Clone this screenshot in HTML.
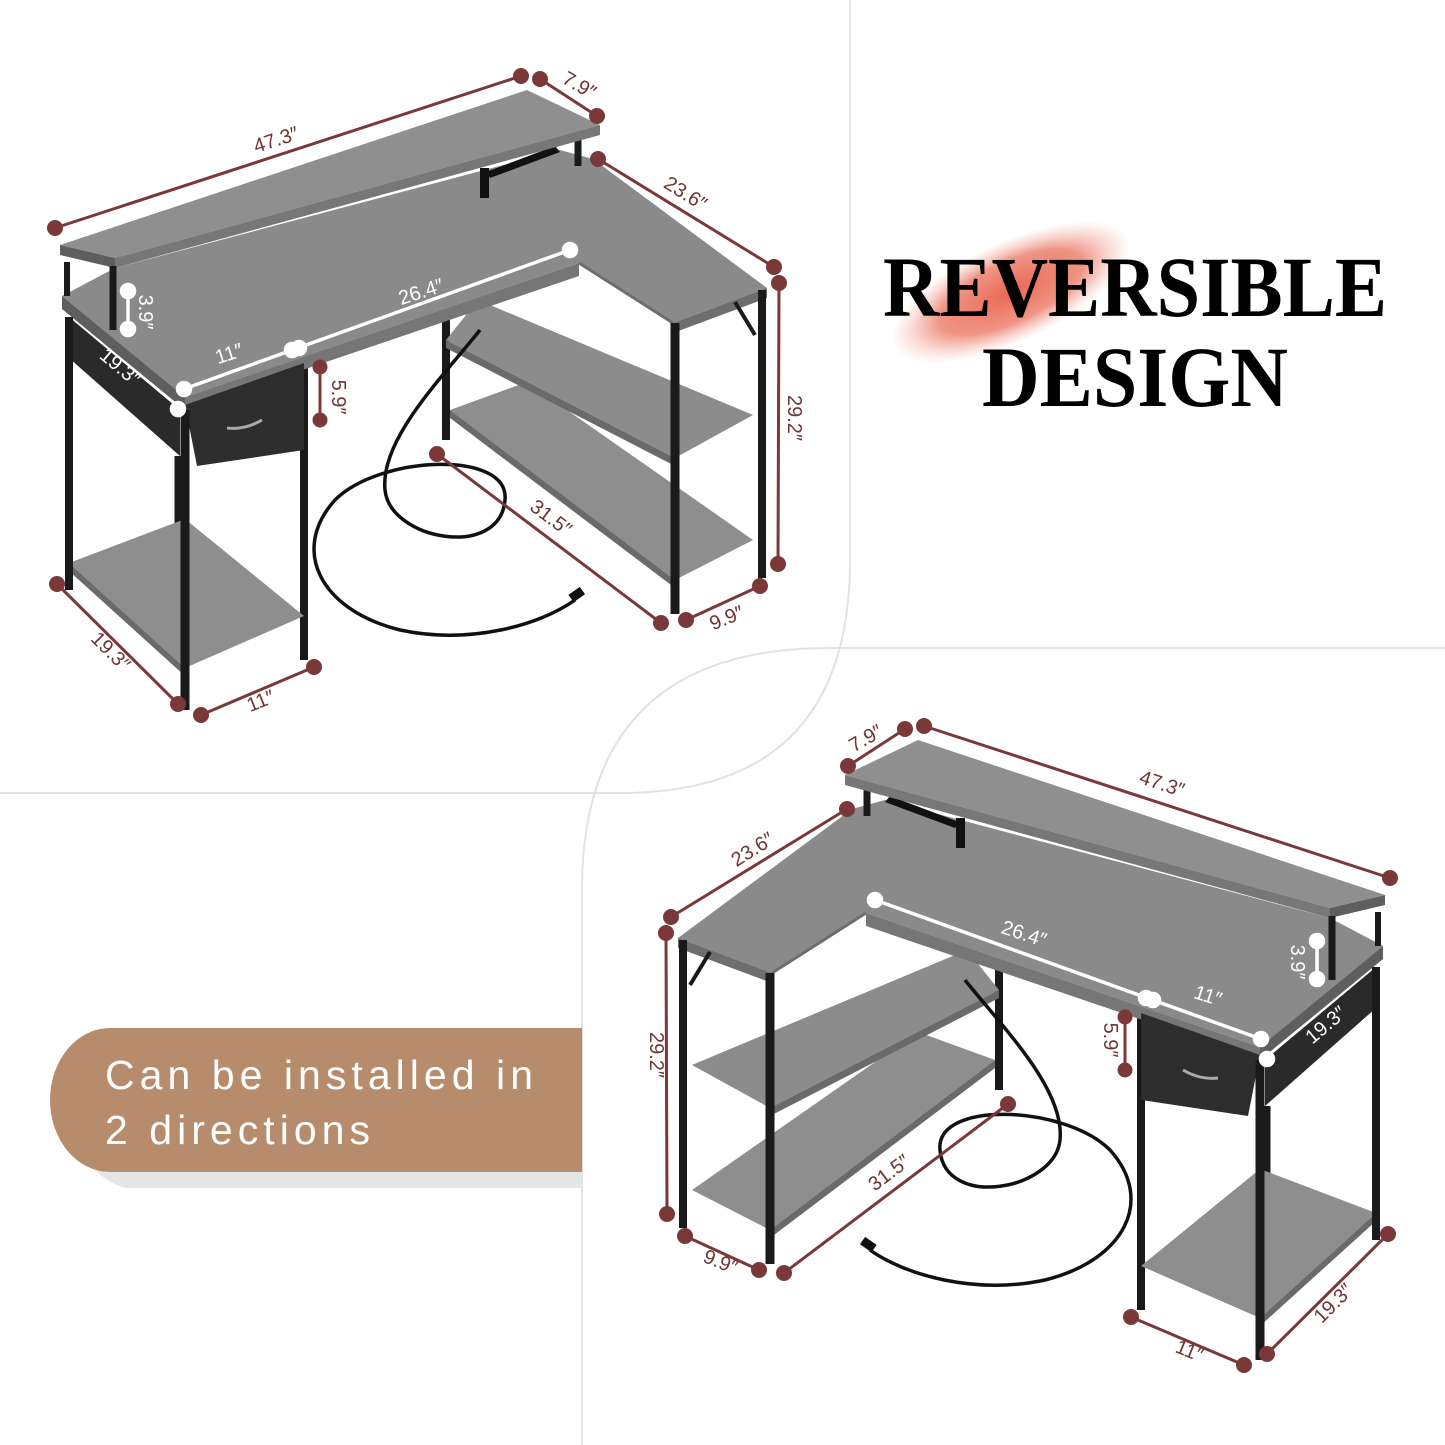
<!DOCTYPE html>
<html><head><meta charset="utf-8"><style>
html,body{margin:0;padding:0;background:#fff;}
svg{display:block;}
.d{font-family:"Liberation Sans",sans-serif;font-size:20px;fill:#6e3535;}
.w{font-family:"Liberation Sans",sans-serif;font-size:20px;fill:#fff;}
</style></head><body>
<svg width="1445" height="1445" viewBox="0 0 1445 1445" xmlns="http://www.w3.org/2000/svg">
<defs>
<radialGradient id="glow" cx="50%" cy="50%" r="50%">
<stop offset="0" stop-color="#e8604a" stop-opacity="0.95"/>
<stop offset="0.6" stop-color="#ec7a66" stop-opacity="0.8"/>
<stop offset="1" stop-color="#f4b0a4" stop-opacity="0"/>
</radialGradient>
<g id="desk">
  <line x1="178" y1="456" x2="178" y2="560" stroke="#1a1a1a" stroke-width="7"/>
  <line x1="304" y1="363" x2="304" y2="660" stroke="#1a1a1a" stroke-width="8"/>
  <line x1="446" y1="313" x2="446" y2="440" stroke="#1a1a1a" stroke-width="8"/>
  <polygon points="450,410 527,382 753,540 675,580" fill="#8e8e8e"/>
  <polygon points="450,410 675,580 675,588 450,418" fill="#6a6a6a"/>
  <polygon points="478,300 753,415 675,458 446,340" fill="#8c8c8c"/>
  <polygon points="446,340 675,458 675,466 446,348" fill="#6a6a6a"/>
  <polygon points="69,563 185,519 304,616 185,668" fill="#8e8e8e"/>
  <polygon points="69,563 185,668 185,676 69,571" fill="#6a6a6a"/>
  <path d="M480,330 C440,380 380,440 385,490 C390,540 500,560 505,500 C510,450 380,455 335,500 C290,550 320,610 400,630 C470,645 540,625 575,600" fill="none" stroke="#111" stroke-width="3.5"/>
  <rect x="570" y="590" width="14" height="9" fill="#111" transform="rotate(-35 577 595)"/>
  <polygon points="62,296 185,397 579,263 673,323 767,288 593,159 560,150 115,268" fill="#8a8a8a"/>
  <polygon points="62,296 185,397 185,410 62,309" fill="#5e5e5e"/>
  <polygon points="185,397 579,263 579,276 185,410" fill="#767676"/>
  <polygon points="673,323 767,288 767,298 673,333" fill="#6e6e6e"/>
  <line x1="579" y1="263" x2="673" y2="323" stroke="#6e6e6e" stroke-width="3"/>
  <polygon points="69,317 180,410 180,456 69,358" fill="#2a2a2a"/>
  <polygon points="185,405 304,363 304,450 197,466" fill="#2d2d2d"/>
  <path d="M227,428 Q245,430 262,420" fill="none" stroke="#aaa" stroke-width="3"/>
  <line x1="69" y1="317" x2="69" y2="590" stroke="#1a1a1a" stroke-width="8"/>
  <line x1="185" y1="410" x2="185" y2="710" stroke="#1a1a1a" stroke-width="9"/>
  <line x1="675" y1="323" x2="675" y2="614" stroke="#1a1a1a" stroke-width="9"/>
  <line x1="762" y1="290" x2="762" y2="578" stroke="#1a1a1a" stroke-width="8"/>
  <line x1="735" y1="302" x2="755" y2="335" stroke="#1a1a1a" stroke-width="4"/>
  <line x1="67" y1="262" x2="67" y2="296" stroke="#1a1a1a" stroke-width="6"/>
  <line x1="578" y1="132" x2="578" y2="166" stroke="#1a1a1a" stroke-width="7"/>
  <rect x="480" y="168" width="9" height="30" fill="#111"/>
  <polygon points="486,172 555,146 560,152 490,178" fill="#111"/>
  <polygon points="60,245 527,90 600,125 115,258" fill="#8f8f8f"/>
  <polygon points="60,245 115,258 115,268 60,255" fill="#5e5e5e"/>
  <polygon points="115,258 600,125 600,135 115,268" fill="#777"/>
  <line x1="113" y1="266" x2="113" y2="330" stroke="#1a1a1a" stroke-width="7"/>
  <g stroke="#7a3838" stroke-width="3" fill="#7a3838">
    <line x1="55" y1="228" x2="521" y2="76"/><circle cx="55" cy="228" r="6.5"/><circle cx="521" cy="76" r="6.5"/>
    <line x1="540" y1="79" x2="597" y2="116"/><circle cx="540" cy="79" r="6.5"/><circle cx="597" cy="116" r="6.5"/>
    <line x1="598" y1="159" x2="774" y2="267"/><circle cx="598" cy="159" r="6.5"/><circle cx="774" cy="267" r="6.5"/>
    <line x1="779" y1="283" x2="778" y2="564"/><circle cx="779" cy="283" r="6.5"/><circle cx="778" cy="564" r="6.5"/>
    <line x1="686" y1="620" x2="760" y2="586"/><circle cx="686" cy="620" r="6.5"/><circle cx="760" cy="586" r="6.5"/>
    <line x1="437" y1="454" x2="661" y2="623"/><circle cx="437" cy="454" r="6.5"/><circle cx="661" cy="623" r="6.5"/>
    <line x1="57" y1="584" x2="178" y2="704"/><circle cx="57" cy="584" r="6.5"/><circle cx="178" cy="704" r="6.5"/>
    <line x1="201" y1="715" x2="314" y2="667"/><circle cx="201" cy="715" r="6.5"/><circle cx="314" cy="667" r="6.5"/>
    <line x1="320" y1="367" x2="320" y2="420"/><circle cx="320" cy="367" r="6"/><circle cx="320" cy="420" r="6"/>
  </g>
  <g stroke="#fff" stroke-width="3.5" fill="#fff">
    <line x1="128" y1="291" x2="128" y2="329"/><circle cx="128" cy="291" r="6.5"/><circle cx="128" cy="329" r="6.5"/>
    <line x1="184" y1="389" x2="570" y2="250"/><circle cx="184" cy="389" r="6.5"/><circle cx="570" cy="250" r="6.5"/>
    <circle cx="292" cy="350" r="6.5"/><circle cx="299" cy="348" r="6.5"/>
    <circle cx="178" cy="409" r="6.5"/>
  </g>
</g>
</defs>

<path d="M850,0 L850,560 Q850,793 620,793 L0,793" fill="none" stroke="#e2e2e2" stroke-width="2"/>
<path d="M1445,648 L830,648 Q582,648 582,890 L582,1445" fill="none" stroke="#e2e2e2" stroke-width="2"/>

<use href="#desk"/>
<use href="#desk" transform="translate(1445,650) scale(-1,1)"/>

<g text-anchor="middle">
<text class="d" transform="translate(278,146) rotate(-18)">47.3″</text>
<text class="d" transform="translate(576,91) rotate(30)">7.9″</text>
<text class="d" transform="translate(682,199) rotate(32)">23.6″</text>
<text class="d" transform="translate(788,418) rotate(90)">29.2″</text>
<text class="d" transform="translate(547,523) rotate(37)">31.5″</text>
<text class="d" transform="translate(729,624) rotate(-22)">9.9″</text>
<text class="d" transform="translate(106,656) rotate(45)">19.3″</text>
<text class="d" transform="translate(263,707) rotate(-22)">11″</text>
<text class="d" transform="translate(332,397) rotate(90)">5.9″</text>
<text class="w" transform="translate(423,298) rotate(-18)">26.4″</text>
<text class="w" transform="translate(231,360) rotate(-18)">11″</text>
<text class="w" transform="translate(139,312) rotate(90)">3.9″</text>
<text class="w" transform="translate(116,372) rotate(40)">19.3″</text>
</g>
<g text-anchor="middle">
<text class="d" transform="translate(1160,790) rotate(18)">47.3″</text>
<text class="d" transform="translate(869,744) rotate(-30)">7.9″</text>
<text class="d" transform="translate(756,855) rotate(-32)">23.6″</text>
<text class="d" transform="translate(650,1055) rotate(90)">29.2″</text>
<text class="d" transform="translate(893,1178) rotate(-37)">31.5″</text>
<text class="d" transform="translate(718,1268) rotate(22)">9.9″</text>
<text class="d" transform="translate(1338,1308) rotate(-45)">19.3″</text>
<text class="d" transform="translate(1187,1357) rotate(22)">11″</text>
<text class="d" transform="translate(1104,1040) rotate(90)">5.9″</text>
<text class="w" transform="translate(1022,940) rotate(18)">26.4″</text>
<text class="w" transform="translate(1206,1002) rotate(18)">11″</text>
<text class="w" transform="translate(1291,962) rotate(90)">3.9″</text>
<text class="w" transform="translate(1330,1030) rotate(-40)">19.3″</text>
</g>

<ellipse cx="1011" cy="292" rx="130" ry="50" fill="url(#glow)" transform="rotate(-25 1011 292)"/>
<text x="883" y="316" textLength="504" lengthAdjust="spacingAndGlyphs" font-family="'Liberation Serif',serif" font-weight="bold" font-size="86" fill="#000">REVERSIBLE</text>
<text x="982" y="406" textLength="306" lengthAdjust="spacingAndGlyphs" font-family="'Liberation Serif',serif" font-weight="bold" font-size="86" fill="#000">DESIGN</text>

<path d="M125,1042 L582,1042 L582,1188 L125,1188 A70,70 0 0 1 75,1120 Z" fill="#e6e6e6"/>
<path d="M110,1028 L582,1028 L582,1172 L110,1172 A60,72 0 0 1 50,1100 A60,72 0 0 1 110,1028 Z" fill="#b78c6c"/>
<text x="105" y="1089" textLength="428" lengthAdjust="spacing" font-family="'Liberation Sans',sans-serif" font-size="41" fill="#fff">Can be installed in</text>
<text x="105" y="1144" textLength="265" lengthAdjust="spacing" font-family="'Liberation Sans',sans-serif" font-size="41" fill="#fff">2 directions</text>
</svg>
</body></html>
